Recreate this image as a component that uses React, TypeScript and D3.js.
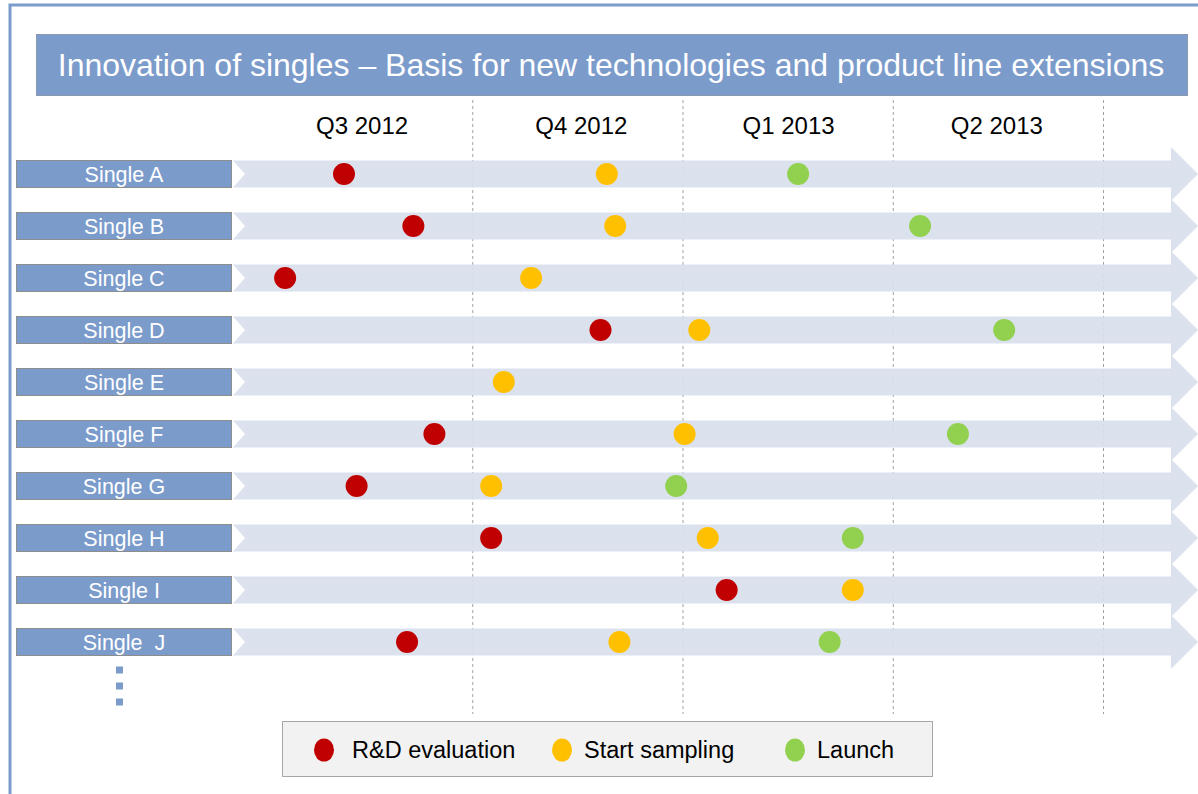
import React from "react";
import * as d3 from "d3";

const title = "Innovation of singles – Basis for new technologies and product line extensions";
const quarters = ["Q3 2012", "Q4 2012", "Q1 2013", "Q2 2013"];
const singles = ["Single A", "Single B", "Single C", "Single D", "Single E", "Single F", "Single G", "Single H", "Single I", "Single  J"];
// positions in quarters elapsed since start of Q3 2012 (null = no milestone)
const rdEvaluation: (number | null)[] = [0.39, 0.72, 0.11, 1.61, null, 0.82, 0.45, 1.09, 2.21, 0.69];
const startSampling: (number | null)[] = [1.64, 1.68, 1.28, 2.08, 1.15, 2.01, 1.09, 2.12, 2.81, 1.7];
const launch: (number | null)[] = [2.55, 3.13, null, 3.53, null, 3.31, 1.97, 2.81, null, 2.7];
const legendLabels = ["R&D evaluation", "Start sampling", "Launch"];
const colors = ["#c00000", "#ffc000", "#92d050"];

const FONT = "Arial, 'Liberation Sans', sans-serif";
const BLUE = "#7b9bcb";

export default function App() {
  const W = 1198, H = 794;
  const x = d3.scaleLinear().domain([0, 4]).range([262, 1103]);
  const y = d3.scaleBand<string>().domain(singles).range([148, 668]).paddingInner(0.48).paddingOuter(0.24);
  const series = [rdEvaluation, startSampling, launch];
  const bw = y.bandwidth();
  const arrowPath = (yc: number) => {
    const h = bw / 2;
    const x0 = 233, notch = 12, xs = 1171, tip = 1198, hh = 27;
    return `M${x0},${yc - h} L${xs},${yc - h} L${xs},${yc - hh} L${tip},${yc} L${xs},${yc + hh} L${xs},${yc + h} L${x0},${yc + h} L${x0 + notch},${yc} Z`;
  };
  const legendX = [324, 562, 795];
  const legendTextX = [352, 584, 817];
  const quarterShift = [-5, 4, 1, -1];
  return (
    <svg width={W} height={H} style={{ position: "absolute", left: 0, top: 0 }} fontFamily={FONT}>
      <rect x={0} y={0} width={W} height={H} fill="#fff" />
      <rect x={10} y={5} width={1300} height={900} fill="none" stroke={BLUE} strokeWidth={3} />
      <rect x={36.5} y={34.5} width={1151} height={61} fill={BLUE} stroke="#8a9ab0" strokeWidth={1} />
      <text x={611} y={65} dy="0.35em" textAnchor="middle" fill="#fff" fontSize={32}>{title}</text>
      {d3.range(1, 5).map((q) => (
        <line key={q} x1={x(q) + 0.5} x2={x(q) + 0.5} y1={100} y2={714} stroke="#a0a0a0" strokeWidth={1} strokeDasharray="3,3" />
      ))}
      {quarters.map((q, i) => (
        <text key={q} x={x(i + 0.5) + quarterShift[i]} y={126} dy="0.35em" textAnchor="middle" fontSize={24} fill="#000">{q}</text>
      ))}
      {singles.map((s, i) => {
        const yc = (y(s) as number) + bw / 2;
        return (
          <g key={s}>
            <path d={arrowPath(yc)} fill="#d9e0ec" fillOpacity={0.93} />
            <rect x={16.5} y={yc - 13.5} width={215} height={27} fill={BLUE} stroke="#8d8d8d" strokeWidth={1} />
            <text x={124} y={yc} dy="0.36em" textAnchor="middle" fill="#fff" fontSize={21.5} style={{ whiteSpace: "pre" }}>{s}</text>
            {series.map((ser, k) =>
              ser[i] == null ? null : <circle key={k} cx={x(ser[i] as number)} cy={yc} r={11} fill={colors[k]} />
            )}
          </g>
        );
      })}
      {[670, 686, 702].map((v) => (
        <rect key={v} x={116} y={v - 3.5} width={7} height={7} fill={BLUE} />
      ))}
      <rect x={282.5} y={721.5} width={650} height={55} fill="#f2f2f2" stroke="#a6a6a6" strokeWidth={1} />
      {legendLabels.map((l, k) => (
        <g key={l}>
          <ellipse cx={legendX[k]} cy={750} rx={10} ry={11.5} fill={colors[k]} />
          <text x={legendTextX[k]} y={750} dy="0.36em" fontSize={23.5} fill="#000">{l}</text>
        </g>
      ))}
    </svg>
  );
}
